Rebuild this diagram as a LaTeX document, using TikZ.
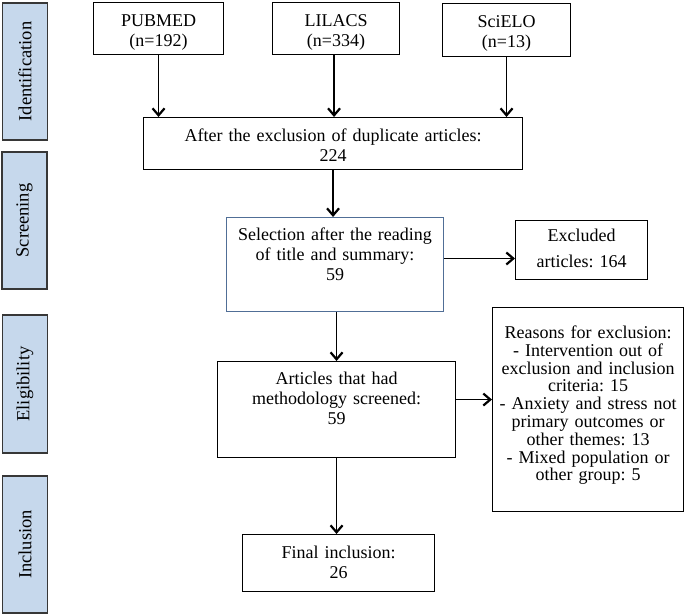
\documentclass[tikz,border=0pt]{standalone}
\usepackage{fontspec}
\setmainfont{Liberation Serif}
\frenchspacing
\usetikzlibrary{arrows.meta}
\definecolor{phasefill}{RGB}{198,216,236}
\definecolor{phaseline}{RGB}{55,55,55}
\definecolor{selline}{RGB}{80,110,150}
\tikzset{
  phase/.style={draw=phaseline,fill=phasefill,line width=1.3pt,rotate=90,minimum width=137pt,minimum height=45pt,inner sep=0pt,font=\fontsize{18.5}{20}\selectfont},
  flowbox/.style={draw,line width=1.1pt,inner sep=0pt,align=center,anchor=north west,font=\fontsize{18}{20}\selectfont},
  arr/.style={line width=1.4pt,-{Straight Barb[length=7pt,width=12pt,line width=2.2pt]}}
}
\begin{document}
\begin{tikzpicture}[x=1pt,y=-1pt]
    \useasboundingbox (0,0) rectangle (685,615);
    % phases on the left
    \node[phase] (ident) at (25,71.5) {Identification};
    \node[phase] (screen) at (24.5,220.5) {Screening};
    \node[phase,minimum width=138pt] (elig) at (25,384) {Eligibility};
    \node[phase] (incl) at (25,544.5) {Inclusion};
    % databases
    \node[flowbox,text width=130pt,text height=24pt,text depth=28pt] (pubmed) at (93,2) {PUBMED\\(n=192)};
    \node[flowbox,text width=127pt,text height=24pt,text depth=28pt] (lilacs) at (272,2) {LILACS\\(n=334)};
    \node[flowbox,text width=128pt,text height=24pt,text depth=29pt] (scielo) at (442,3) {SciELO\\(n=13)};
    \node[flowbox,text width=379pt,text height=24pt,text depth=28pt] (dup) at (143,117) {After the exclusion of duplicate articles:\\224};
    \node[flowbox,draw=selline,line width=1pt,text width=217pt,text height=23pt,text depth=71pt] (select) at (226,217) {Selection after the reading\\of title and summary:\\59};
    \node[flowbox,text width=132pt,text height=21pt,text depth=38pt] (excl) at (515,220) {Excluded\\[6pt]articles: 164};
    \node[flowbox,text width=238pt,text height=23pt,text depth=73pt] (articles) at (217,361) {Articles that had\\methodology screened:\\59};
    \node[flowbox,font=\fontsize{18}{17.8}\selectfont,text width=191pt,text height=31pt,text depth=173pt] (reasons) at (492,307) {Reasons for exclusion:\\- Intervention out of\\exclusion and inclusion\\criteria: 15\\- Anxiety and stress not\\primary outcomes or\\other themes: 13\\- Mixed population or\\other group: 5};
    \node[flowbox,text width=192pt,text height=24pt,text depth=33pt] (final) at (242,534) {Final inclusion:\\26};
    % arrows
    \draw[arr] (pubmed.south) -- (pubmed.south |- dup.north);
    \draw[arr] ([xshift=-2pt]lilacs.south) -- ([xshift=-2pt]lilacs.south |- dup.north);
    \draw[arr] (scielo.south) -- (scielo.south |- dup.north);
    \draw[arr] (dup.south) -- (dup.south |- select.north);
    \draw[arr] ([yshift=6pt]select.east) -- ([yshift=6pt]select.east -| excl.west);
    \draw[arr] (articles.north |- select.south) -- (articles.north);
    \draw[arr] ([yshift=10pt]articles.east) -- ([yshift=10pt]articles.east -| reasons.west);
    \draw[arr] (articles.south) -- (articles.south |- final.north);
\end{tikzpicture}
\end{document}
